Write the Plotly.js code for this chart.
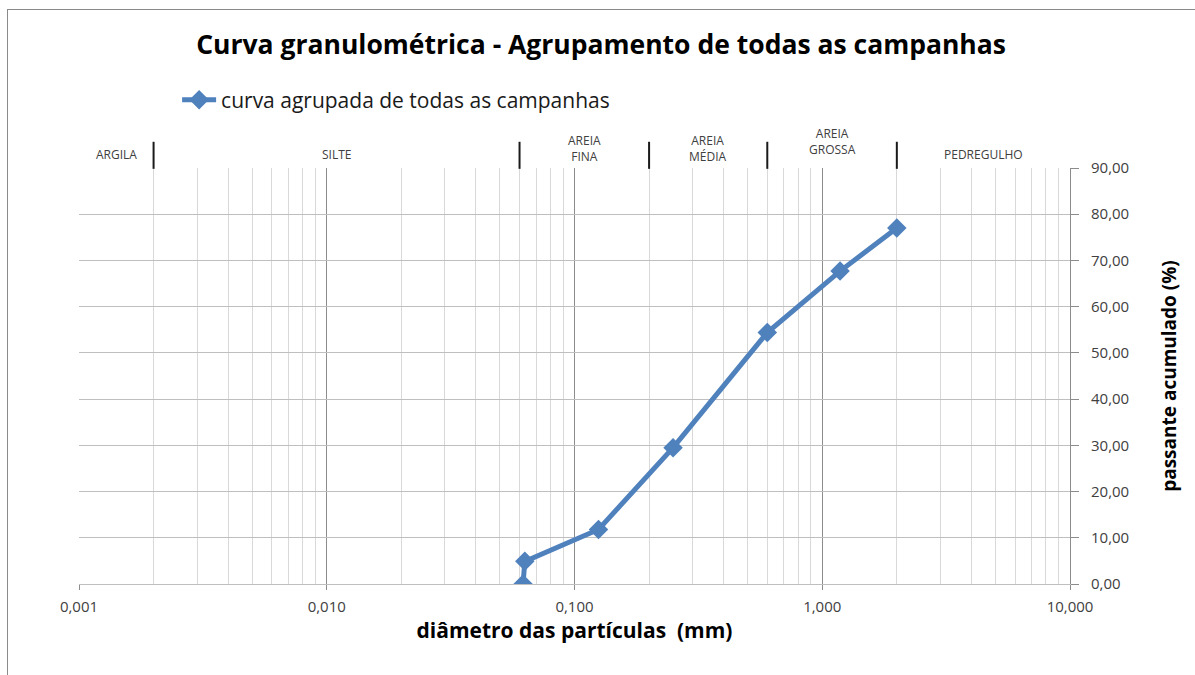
<!DOCTYPE html>
<html>
<head>
<meta charset="utf-8">
<script src="https://cdn.plot.ly/plotly-3.0.1.min.js"></script>
<style>
  html, body { margin: 0; padding: 0; background: #fff; overflow: hidden; }
  #chart { width: 1195px; height: 675px; }
  #frame { position: absolute; left: 7px; top: 9px; width: 1400px; height: 900px;
           border: 1px solid #8a8a8a; pointer-events: none; box-sizing: border-box; }
</style>
</head>
<body>
<div id="chart"></div>
<div id="frame"></div>
<script>
// ---- data ----
const diametros = [0.062, 0.063, 0.125, 0.25, 0.6, 1.18, 2.0];      // mm
const passante  = [0.0, 4.9, 11.8, 29.5, 54.4, 67.7, 77.0];          // %
const serieNome = "curva agrupada de todas as campanhas";

const xTickVals = [0.001, 0.01, 0.1, 1, 10];
const xTickText = ["0,001", "0,010", "0,100", "1,000", "10,000"];
const yTickVals = [0, 10, 20, 30, 40, 50, 60, 70, 80, 90];
const yTickText = ["0,00", "10,00", "20,00", "30,00", "40,00", "50,00", "60,00", "70,00", "80,00", "90,00"];

// soil classes: boundaries (mm) and names
const limites = [0.001, 0.002, 0.06, 0.2, 0.6, 2, 10];
const classes = ["ARGILA", "SILTE", "AREIA<br>FINA", "AREIA<br>MÉDIA", "AREIA<br>GROSSA", "PEDREGULHO"];

// ---- layout helpers ----
const FONT = "'Open Sans', 'Noto Sans', sans-serif";
const blue = "#4F81BD";

const annotations = classes.map((c, i) => {
  const xm = Math.sqrt(limites[i] * limites[i + 1]);
  const twoLine = c.indexOf("<br>") >= 0;
  let y = 1.032;
  if (twoLine) y = (c.indexOf("GROSSA") >= 0) ? 1.064 : 1.046;
  return {
    x: Math.log10(xm), xref: "x", y: y, yref: "paper",
    text: c, showarrow: false, xanchor: "center", yanchor: "middle",
    font: { family: FONT, size: 12, color: "#404040" }, align: "center"
  };
});

const shapes = limites.slice(1, -1).map(v => ({
  type: "line", xref: "x", yref: "paper",
  x0: v, x1: v, y0: 0.998, y1: 1.063,
  line: { color: "#1a1a1a", width: 2 }
}));

const trace = {
  x: diametros, y: passante, name: serieNome,
  type: "scatter", mode: "lines+markers",
  line: { color: blue, width: 5 },
  marker: { symbol: "diamond", size: 15, color: blue }
};

const layout = {
  width: 1195, height: 675,
  margin: { l: 79, r: 125, t: 168, b: 91 },
  paper_bgcolor: "#fff", plot_bgcolor: "#fff",
  separators: ",.",
  font: { family: FONT, color: "#404040" },
  title: {
    text: "<b>Curva granulométrica - Agrupamento de todas as campanhas</b>",
    x: 0.503, xref: "container", xanchor: "center",
    y: 1 - 45 / 675, yref: "container", yanchor: "middle",
    font: { family: FONT, size: 26.5, color: "#000" }
  },
  showlegend: true,
  legend: {
    orientation: "h", x: 0.099, y: 1.163, xanchor: "left", yanchor: "middle",
    font: { family: FONT, size: 21, color: "#1a1a1a" },
    bgcolor: "rgba(0,0,0,0)", itemwidth: 34
  },
  xaxis: {
    type: "log", range: [-3, 1],
    tickvals: xTickVals, ticktext: xTickText,
    showgrid: true, gridcolor: "#8c8c8c", gridwidth: 1,
    minor: { dtick: "D1", showgrid: true, gridcolor: "#d9d9d9", gridwidth: 1, ticks: "" },
    showline: true, linecolor: "#bfbfbf", linewidth: 1,
    ticks: "outside", ticklen: 5, tickcolor: "#8c8c8c",
    ticklabelstandoff: 4,
    tickfont: { family: FONT, size: 15, color: "#404040" },
    zeroline: false,
    title: {
      text: "<b>diâmetro das partículas  (mm)</b>",
      font: { family: FONT, size: 21, color: "#000" }, standoff: 4
    }
  },
  yaxis: {
    side: "right", range: [0, 90],
    tickvals: yTickVals, ticktext: yTickText,
    showgrid: true, gridcolor: "#bfbfbf", gridwidth: 1,
    showline: true, linecolor: "#8c8c8c", linewidth: 1,
    ticks: "outside", ticklen: 8, tickcolor: "#8c8c8c",
    ticklabelstandoff: 9,
    tickfont: { family: FONT, size: 15, color: "#404040" },
    zeroline: false,
    title: {
      text: "<b>passante acumulado (%)</b>",
      font: { family: FONT, size: 19, color: "#000" }, standoff: 34
    }
  },
  annotations: annotations,
  shapes: shapes
};

Plotly.newPlot("chart", [trace], layout, { displayModeBar: false, staticPlot: true });
</script>
</body>
</html>
